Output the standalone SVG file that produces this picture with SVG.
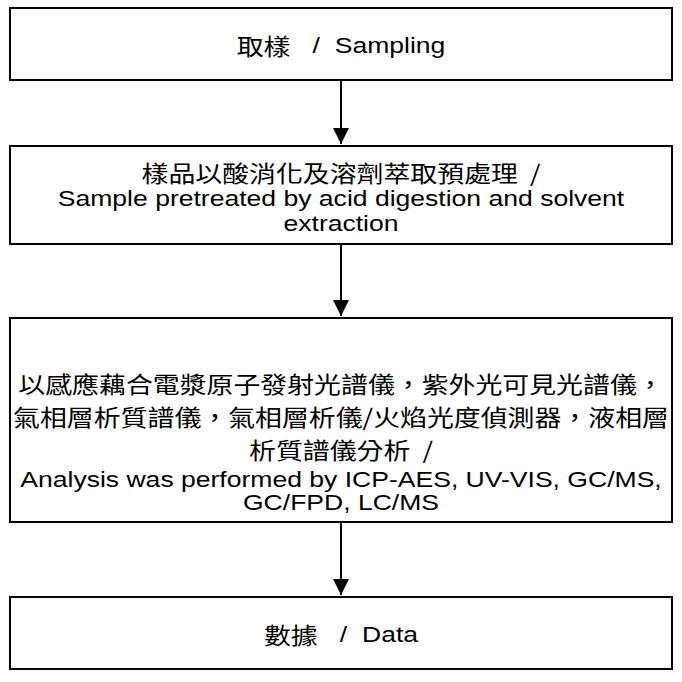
<svg xmlns="http://www.w3.org/2000/svg" width="682" height="682" viewBox="0 0 682 682">
<defs>
<marker id="ah" markerWidth="16" markerHeight="16" refX="16" refY="8" orient="auto" markerUnits="userSpaceOnUse">
<path d="M0,0 L16,8 L0,16 Z" fill="#000"/>
</marker>
<style>
.box{fill:#fff;stroke:#000;stroke-width:2}
.zh{font-family:"Noto Sans CJK TC","Noto Sans CJK SC",sans-serif;font-size:22.8px;fill:#000;text-anchor:middle;dominant-baseline:central}
.en{font-family:"Liberation Sans",Arial,sans-serif;font-size:22.5px;fill:#000;text-anchor:middle;dominant-baseline:central}
.con{stroke:#000;stroke-width:2;fill:none}
</style>
</defs>
<rect width="682" height="682" fill="#fff"/>
<g id="n1"><rect class="box" x="10" y="8" width="662" height="72"/>
<g transform="translate(341 0) scale(1.18 1)"><text class="en" x="0" y="45"><tspan class="zh">取樣</tspan>&#160;&#160;&#160;/&#160;&#160;Sampling</text></g></g>
<g id="n2"><rect class="box" x="10" y="146" width="662" height="98"/>
<g transform="translate(341 0) scale(1.18 1)">
<text class="zh" x="0" y="172">樣品以酸消化及溶劑萃取預處理&#160;&#160;/</text>
<text class="en" x="0" y="198">Sample pretreated by acid digestion and solvent</text>
<text class="en" x="0" y="223">extraction</text></g></g>
<g id="n3"><rect class="box" x="10" y="318" width="662" height="204"/>
<g transform="translate(341 0) scale(1.18 1)">
<text class="zh" x="0" y="383">以感應藕合電漿原子發射光譜儀，紫外光可見光譜儀，</text>
<text class="zh" x="0" y="416">氣相層析質譜儀，氣相層析儀/火焰光度偵測器，液相層</text>
<text class="zh" x="0" y="449">析質譜儀分析&#160;&#160;/</text>
<text class="en" x="0" y="479">Analysis was performed by ICP-AES, UV-VIS, GC/MS,</text>
<text class="en" x="0" y="502">GC/FPD, LC/MS</text></g></g>
<g id="n4"><rect class="box" x="10" y="597" width="662" height="72"/>
<g transform="translate(341 0) scale(1.18 1)"><text class="en" x="0" y="634"><tspan class="zh">數據</tspan>&#160;&#160;&#160;/&#160;&#160;Data</text></g></g>
<g id="connectors">
<line class="con" x1="341" y1="80" x2="341" y2="144" marker-end="url(#ah)"/>
<line class="con" x1="341" y1="244" x2="341" y2="316" marker-end="url(#ah)"/>
<line class="con" x1="341" y1="522" x2="341" y2="595" marker-end="url(#ah)"/>
</g>
</svg>
